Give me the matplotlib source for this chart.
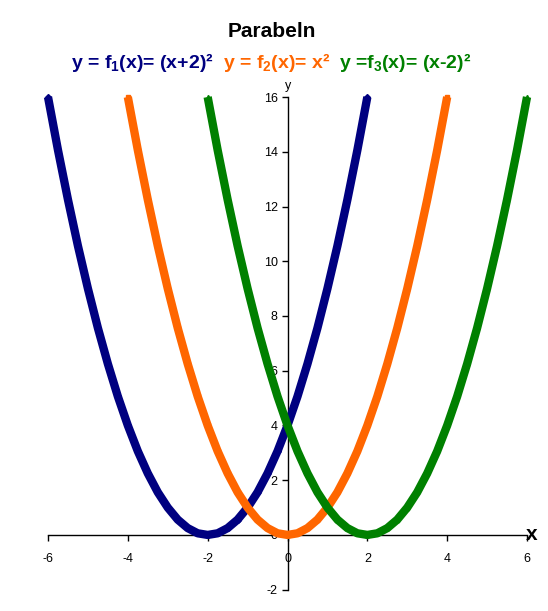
import matplotlib
matplotlib.use("Agg")
import matplotlib.pyplot as plt

# ---- Daten ----
x_f1 = [-6.0, -5.75, -5.5, -5.25, -5.0, -4.75, -4.5, -4.25, -4.0, -3.75, -3.5,
        -3.25, -3.0, -2.75, -2.5, -2.25, -2.0, -1.75, -1.5, -1.25, -1.0, -0.75,
        -0.5, -0.25, 0.0, 0.25, 0.5, 0.75, 1.0, 1.25, 1.5, 1.75, 2.0]
x_f2 = [-4.0, -3.75, -3.5, -3.25, -3.0, -2.75, -2.5, -2.25, -2.0, -1.75, -1.5,
        -1.25, -1.0, -0.75, -0.5, -0.25, 0.0, 0.25, 0.5, 0.75, 1.0, 1.25, 1.5,
        1.75, 2.0, 2.25, 2.5, 2.75, 3.0, 3.25, 3.5, 3.75, 4.0]
x_f3 = [-2.0, -1.75, -1.5, -1.25, -1.0, -0.75, -0.5, -0.25, 0.0, 0.25, 0.5,
        0.75, 1.0, 1.25, 1.5, 1.75, 2.0, 2.25, 2.5, 2.75, 3.0, 3.25, 3.5, 3.75,
        4.0, 4.25, 4.5, 4.75, 5.0, 5.25, 5.5, 5.75, 6.0]
y_f1 = [16.0, 14.06, 12.25, 10.56, 9.0, 7.56, 6.25, 5.06, 4.0, 3.06, 2.25,
        1.56, 1.0, 0.56, 0.25, 0.06, 0.0, 0.06, 0.25, 0.56, 1.0, 1.56, 2.25,
        3.06, 4.0, 5.06, 6.25, 7.56, 9.0, 10.56, 12.25, 14.06, 16.0]
y_f2 = [16.0, 14.06, 12.25, 10.56, 9.0, 7.56, 6.25, 5.06, 4.0, 3.06, 2.25,
        1.56, 1.0, 0.56, 0.25, 0.06, 0.0, 0.06, 0.25, 0.56, 1.0, 1.56, 2.25,
        3.06, 4.0, 5.06, 6.25, 7.56, 9.0, 10.56, 12.25, 14.06, 16.0]
y_f3 = [16.0, 14.06, 12.25, 10.56, 9.0, 7.56, 6.25, 5.06, 4.0, 3.06, 2.25,
        1.56, 1.0, 0.56, 0.25, 0.06, 0.0, 0.06, 0.25, 0.56, 1.0, 1.56, 2.25,
        3.06, 4.0, 5.06, 6.25, 7.56, 9.0, 10.56, 12.25, 14.06, 16.0]

x_ticks = [-6, -4, -2, 0, 2, 4, 6]
y_ticks = [-2, 0, 2, 4, 6, 8, 10, 12, 14, 16]

# ---- Schrift ----
plt.rcParams["font.family"] = ["Liberation Sans", "DejaVu Sans"]
plt.rcParams["mathtext.fontset"] = "custom"
plt.rcParams["mathtext.rm"] = "Liberation Sans:bold"
plt.rcParams["mathtext.default"] = "rm"
plt.rcParams["axes.unicode_minus"] = False

fig = plt.figure(figsize=(5.48, 6.11), dpi=100)
ax = fig.add_axes([0.0876, 0.0349, 0.8741, 0.8063])

# ---- Kurven ----
ax.plot(x_f1, y_f1, color="#000080", lw=6, marker="D", ms=3,
        solid_capstyle="butt", solid_joinstyle="round", clip_on=False, zorder=3)
ax.plot(x_f2, y_f2, color="#FF6600", lw=6, marker="s", ms=3,
        solid_capstyle="butt", solid_joinstyle="round", clip_on=False, zorder=3)
ax.plot(x_f3, y_f3, color="#008000", lw=6, marker="^", ms=3,
        solid_capstyle="butt", solid_joinstyle="round", clip_on=False, zorder=3)

# ---- Achsen im Ursprung ----
ax.set_xlim(-6, 6)
ax.set_ylim(-2, 16)
ax.spines["left"].set_position(("data", 0))
ax.spines["bottom"].set_position(("data", 0))
ax.spines["top"].set_visible(False)
ax.spines["right"].set_visible(False)
for s in ("left", "bottom"):
    ax.spines[s].set_linewidth(1)
    ax.spines[s].set_zorder(1)
ax.set_xticks(x_ticks)
ax.set_yticks(y_ticks)
ax.tick_params(axis="x", direction="out", length=4, width=1, labelsize=9, pad=9)
ax.tick_params(axis="y", direction="out", length=4, width=1, labelsize=9, pad=3)
ax.patch.set_visible(False)

ax.text(5.98, 0, "x", fontsize=15, fontweight="bold", ha="left", va="center")
ax.text(0.02, 16.2, "y", fontsize=9, ha="center", va="bottom")

# ---- Titel ----
fig.text(272 / 548, 0.949, "Parabeln", fontsize=15, fontweight="bold",
         ha="center", va="center")

parts = [(r"y = f$_1$(x)= (x+2)²", "#000080"),
         (r"y = f$_2$(x)= x²", "#FF6600"),
         (r"y =f$_3$(x)= (x-2)²", "#008000")]
gap = 9
texts = [fig.text(0, 0.898, s, color=c, fontsize=14, fontweight="bold",
                  ha="left", va="center") for s, c in parts]
fig.canvas.draw()
r = fig.canvas.get_renderer()
widths = [t.get_window_extent(r).width for t in texts]
total = sum(widths) + gap * (len(widths) - 1)
x0 = 271.5 - total / 2
for t, w in zip(texts, widths):
    t.set_x(x0 / fig.bbox.width)
    x0 += w + gap

fig.savefig("out.png", dpi=100)
